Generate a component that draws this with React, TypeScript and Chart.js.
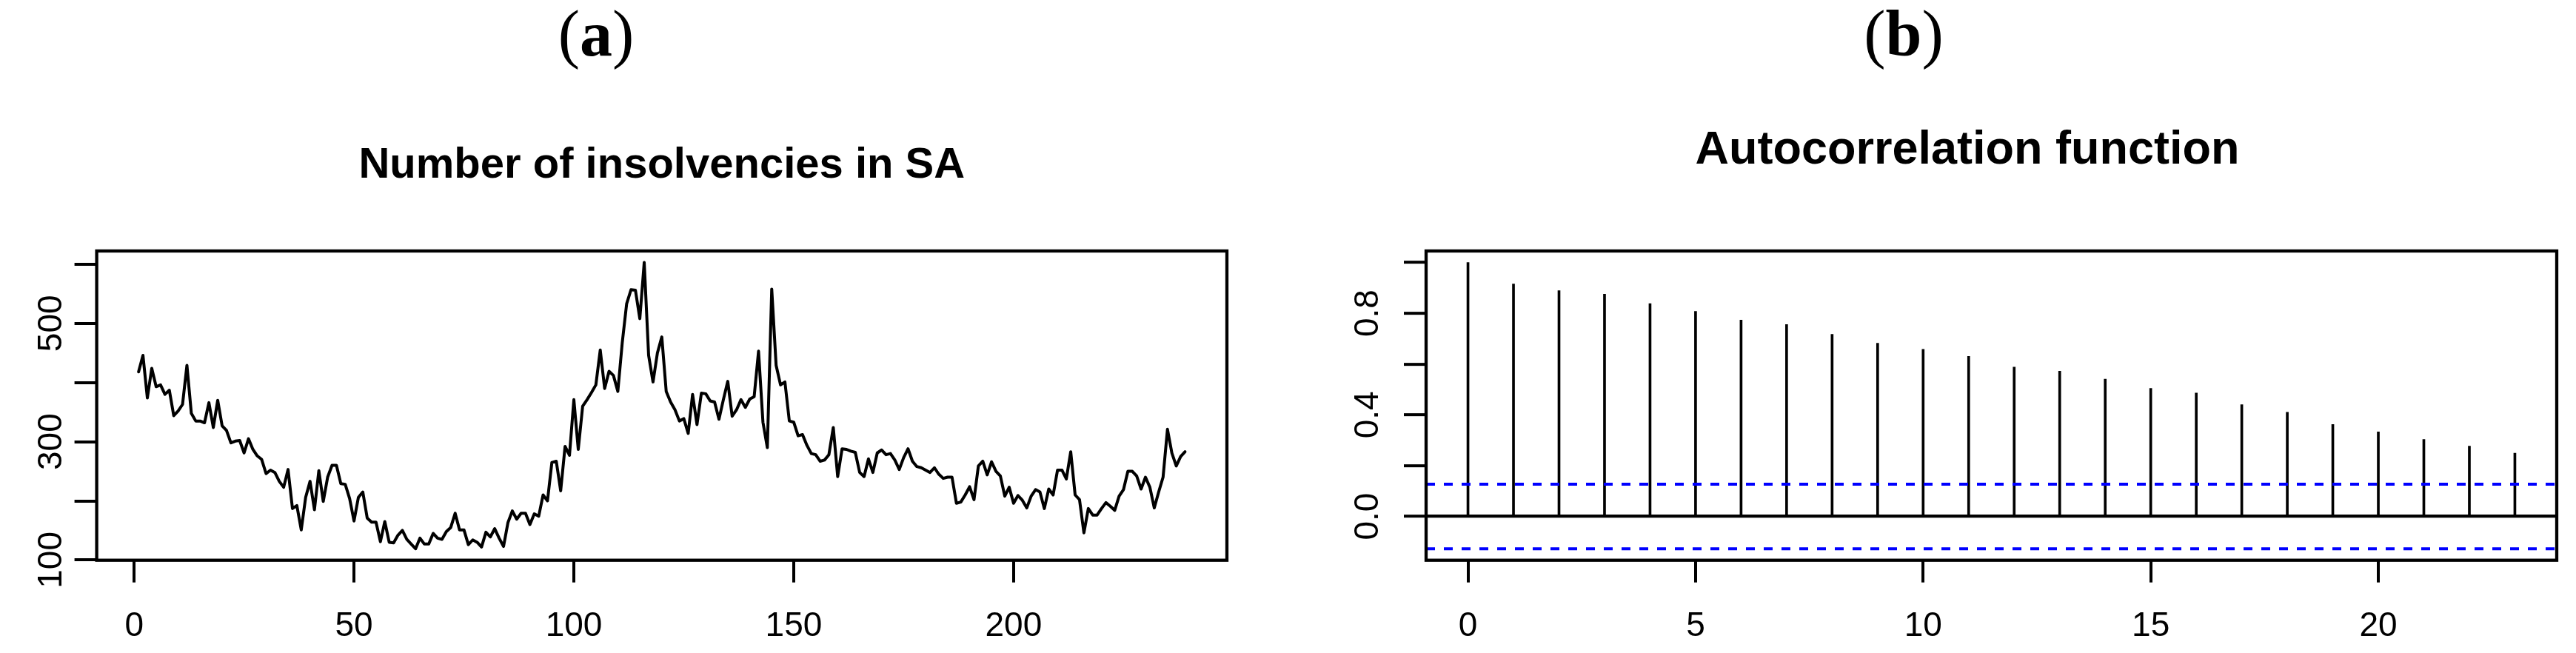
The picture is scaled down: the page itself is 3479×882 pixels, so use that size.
import React, { useEffect, useRef } from 'react';
import { Chart, registerables } from 'chart.js';

Chart.register(...registerables);

// ---------------- data ----------------
const INSOLVENCIES: number[] = [
  418, 446, 374, 424, 393, 396, 380, 387, 344, 352,
  363, 429, 348, 335, 335, 332, 366, 324, 370, 327,
  319, 298, 301, 302, 281, 305, 287, 276, 270, 246,
  252, 248, 233, 223, 253, 187, 192, 151, 206, 233,
  185, 251, 199, 240, 260, 260, 229, 228, 204, 166,
  206, 215, 171, 164, 164, 131, 165, 130, 129, 142,
  150, 135, 127, 119, 137, 127, 127, 145, 137, 135,
  148, 155, 179, 151, 151, 126, 134, 130, 122, 147,
  139, 153, 137, 123, 163, 183, 169, 179, 179, 160,
  178, 174, 210, 200, 265, 267, 217, 292, 277, 371,
  287, 360, 371, 383, 396, 455, 390, 419, 412, 385,
  467, 533, 557, 556, 508, 603, 446, 401, 450, 477,
  385, 367, 354, 335, 339, 314, 380, 329, 382, 381,
  369, 367, 338, 371, 402, 343, 354, 371, 358, 372,
  376, 453, 333, 290, 558, 429, 396, 401, 335, 333,
  310, 312, 294, 280, 278, 267, 269, 278, 324, 241,
  288, 287, 284, 282, 248, 241, 271, 248, 281, 286,
  278, 280, 269, 253, 273, 288, 267, 258, 256, 252,
  248, 256, 245, 238, 240, 240, 196, 198, 210, 224,
  202, 259, 267, 244, 266, 250, 242, 208, 223, 196,
  209, 201, 188, 208, 219, 215, 187, 220, 210, 252,
  252, 237, 283, 210, 202, 146, 187, 176, 176, 187,
  197, 191, 184, 208, 219, 250, 250, 242, 220, 240,
  223, 188, 215, 240, 321, 281, 259, 275, 283,
];
const TIME_INDEX: number[] = INSOLVENCIES.map((_, i) => i + 1);

const ACF_LAGS: number[] = [
  0, 1, 2, 3, 4, 5, 6, 7, 8, 9, 10, 11,
  12, 13, 14, 15, 16, 17, 18, 19, 20, 21, 22, 23,
];
const ACF_VALUES: number[] = [
  1.0, 0.915, 0.889, 0.875, 0.838, 0.807, 0.773, 0.756, 0.717, 0.682, 0.658, 0.63,
  0.588, 0.572, 0.541, 0.504, 0.486, 0.44, 0.41, 0.362, 0.333, 0.303, 0.277, 0.249,
];
const ACF_BOUND = 0.127;

const TS_X_STEP = 50;
const TS_Y_STEP = 100;
const TS_Y_LABELLED = [100, 300, 500];
const ACF_X_STEP = 5;
const ACF_Y_STEP = 0.2;
const ACF_Y_LABELLED = [0, 0.4, 0.8];

const PANEL_LETTERS = ['a', 'b'];
const TITLES = ['Number of insolvencies in SA', 'Autocorrelation function'];

// ---------------- helpers ----------------
const extend = (lo: number, hi: number) => {
  const r = hi - lo;
  return [lo - 0.04 * r, hi + 0.04 * r];
};

const SANS = '"Liberation Sans", Arial, Helvetica, sans-serif';
const SERIF = '"Liberation Serif", "Times New Roman", serif';
const TICK_FONT = { family: SANS, size: 46 };

const panelPlugin = {
  id: 'panel',
  afterDatasetsDraw(chart: any, _args: any, opts: any) {
    const { ctx, chartArea: a } = chart;
    if (opts.bounds) {
      const ys = chart.scales.y;
      ctx.save();
      ctx.beginPath();
      ctx.rect(a.left, a.top, a.right - a.left, a.bottom - a.top);
      ctx.clip();
      ctx.strokeStyle = '#0000FF';
      ctx.lineWidth = 4;
      ctx.setLineDash([12, 12]);
      for (const v of opts.bounds) {
        const py = ys.getPixelForValue(v);
        ctx.beginPath();
        ctx.moveTo(a.left, py);
        ctx.lineTo(a.right, py);
        ctx.stroke();
      }
      ctx.restore();
    }
    ctx.save();
    ctx.strokeStyle = '#000';
    ctx.lineWidth = 4.3;
    ctx.strokeRect(a.left, a.top, a.right - a.left, a.bottom - a.top);
    ctx.restore();
  },
  afterDraw(chart: any, _args: any, opts: any) {
    const { ctx, chartArea: a } = chart;
    ctx.save();
    ctx.fillStyle = '#000';
    ctx.textBaseline = 'alphabetic';
    // main title
    ctx.font = `bold ${opts.titleSize}px ${SANS}`;
    ctx.textAlign = 'center';
    const tx = opts.titleX != null ? opts.titleX : (a.left + a.right) / 2;
    ctx.fillText(opts.title, tx, opts.titleY);
    // panel label "(x)"
    const size = opts.labelSize;
    const fReg = `${size}px ${SERIF}`;
    const fBold = `bold ${size}px ${SERIF}`;
    ctx.textAlign = 'left';
    ctx.font = fReg;
    const wl = ctx.measureText('(').width;
    const wr = ctx.measureText(')').width;
    ctx.font = fBold;
    const wm = ctx.measureText(opts.letter).width;
    let x = opts.labelX - (wl + wm + wr) / 2;
    ctx.font = fReg;
    ctx.fillText('(', x, opts.labelY);
    x += wl;
    ctx.font = fBold;
    ctx.fillText(opts.letter, x, opts.labelY);
    x += wm;
    ctx.font = fReg;
    ctx.fillText(')', x, opts.labelY);
    ctx.restore();
  },
};

const axisGrid = {
  display: true,
  drawOnChartArea: false,
  drawTicks: true,
  tickLength: 30,
  tickWidth: 4,
  tickColor: '#000',
  color: '#000',
  lineWidth: 4,
};

export default function App() {
  const leftRef = useRef<HTMLCanvasElement>(null);
  const rightRef = useRef<HTMLCanvasElement>(null);

  useEffect(() => {
    const [xMin, xMax] = extend(TIME_INDEX[0], TIME_INDEX[TIME_INDEX.length - 1]);
    const [yMin, yMax] = extend(Math.min(...INSOLVENCIES), Math.max(...INSOLVENCIES));

    const left = new Chart(leftRef.current as HTMLCanvasElement, {
      type: 'line',
      data: {
        datasets: [
          {
            data: INSOLVENCIES.map((v, i) => ({ x: TIME_INDEX[i], y: v })),
            borderColor: '#000',
            borderWidth: 4,
            pointRadius: 0,
            tension: 0,
            fill: false,
            borderJoinStyle: 'round',
            borderCapStyle: 'round',
          } as any,
        ],
      },
      options: {
        responsive: false,
        animation: false,
        devicePixelRatio: 1,
        events: [],
        layout: { padding: { top: 339, left: 0, right: 103, bottom: 0 } },
        plugins: {
          legend: { display: false },
          tooltip: { enabled: false },
          title: { display: false },
          panel: {
            title: TITLES[0],
            titleSize: 58,
            titleY: 240,
            letter: PANEL_LETTERS[0],
            labelSize: 88,
            labelX: 805,
            labelY: 75,
          },
        } as any,
        scales: {
          x: {
            type: 'linear',
            min: xMin,
            max: xMax,
            border: { display: false },
            grid: axisGrid as any,
            ticks: {
              stepSize: TS_X_STEP,
              includeBounds: false,
              autoSkip: false,
              maxRotation: 0,
              minRotation: 0,
              padding: 32,
              color: '#000',
              font: TICK_FONT,
              callback: (v: any) => String(v),
            },
            afterFit: (s: any) => {
              s.height = 125.3;
            },
          },
          y: {
            type: 'linear',
            min: yMin,
            max: yMax,
            border: { display: false },
            grid: axisGrid as any,
            ticks: {
              stepSize: TS_Y_STEP,
              includeBounds: false,
              autoSkip: false,
              minRotation: 90,
              maxRotation: 90,
              crossAlign: 'center',
              padding: -8,
              color: '#000',
              font: TICK_FONT,
              callback: (v: any) => (TS_Y_LABELLED.includes(Number(v)) ? String(v) : ''),
            },
            afterFit: (s: any) => {
              s.width = 130.6;
            },
          },
        },
      } as any,
      plugins: [panelPlugin as any],
    });

    const [axMin, axMax] = extend(ACF_LAGS[0], ACF_LAGS[ACF_LAGS.length - 1]);
    const [ayMin, ayMax] = extend(
      Math.min(-ACF_BOUND, ...ACF_VALUES),
      Math.max(ACF_BOUND, ...ACF_VALUES),
    );

    const right = new Chart(rightRef.current as HTMLCanvasElement, {
      type: 'bar',
      data: {
        datasets: [
          {
            data: ACF_LAGS.map((l, i) => ({ x: l, y: ACF_VALUES[i] })),
            backgroundColor: '#000',
            borderWidth: 0,
            barThickness: 3,
          } as any,
        ],
      },
      options: {
        responsive: false,
        animation: false,
        devicePixelRatio: 1,
        events: [],
        layout: { padding: { top: 339, left: 0, right: 26, bottom: 0 } },
        plugins: {
          legend: { display: false },
          tooltip: { enabled: false },
          title: { display: false },
          panel: {
            title: TITLES[1],
            titleSize: 63,
            titleY: 221,
            titleX: 897,
            letter: PANEL_LETTERS[1],
            labelSize: 88,
            labelX: 811,
            labelY: 75,
            bounds: [ACF_BOUND, -ACF_BOUND],
          },
        } as any,
        scales: {
          x: {
            type: 'linear',
            min: axMin,
            max: axMax,
            offset: false,
            border: { display: false },
            grid: { ...axisGrid, offset: false } as any,
            ticks: {
              stepSize: ACF_X_STEP,
              includeBounds: false,
              autoSkip: false,
              maxRotation: 0,
              minRotation: 0,
              padding: 32,
              color: '#000',
              font: TICK_FONT,
              callback: (v: any) => String(v),
            },
            afterFit: (s: any) => {
              s.height = 125.3;
            },
          },
          y: {
            type: 'linear',
            min: ayMin,
            max: ayMax,
            beginAtZero: false,
            border: { display: false },
            grid: {
              ...axisGrid,
              drawOnChartArea: true,
              color: (c: any) =>
                c.tick && Math.abs(c.tick.value) < 1e-9 ? '#000' : 'rgba(0,0,0,0)',
              lineWidth: 4.3,
            } as any,
            ticks: {
              stepSize: ACF_Y_STEP,
              includeBounds: false,
              autoSkip: false,
              minRotation: 90,
              maxRotation: 90,
              crossAlign: 'center',
              padding: 16,
              color: '#000',
              font: TICK_FONT,
              callback: (v: any) =>
                ACF_Y_LABELLED.some((t) => Math.abs(t - Number(v)) < 1e-9)
                  ? Number(v).toFixed(1)
                  : '',
            },
            afterFit: (s: any) => {
              s.width = 166;
            },
          },
        },
      } as any,
      plugins: [panelPlugin as any],
    });

    return () => {
      left.destroy();
      right.destroy();
    };
  }, []);

  return (
    <div
      style={{
        position: 'absolute',
        left: 0,
        top: 0,
        width: 3479,
        height: 882,
        background: '#fff',
        overflow: 'hidden',
      }}
    >
      <canvas
        ref={leftRef}
        width={1760}
        height={882}
        style={{ position: 'absolute', left: 0, top: 0, width: 1760, height: 882 }}
      />
      <canvas
        ref={rightRef}
        width={1719}
        height={882}
        style={{ position: 'absolute', left: 1760, top: 0, width: 1719, height: 882 }}
      />
    </div>
  );
}
